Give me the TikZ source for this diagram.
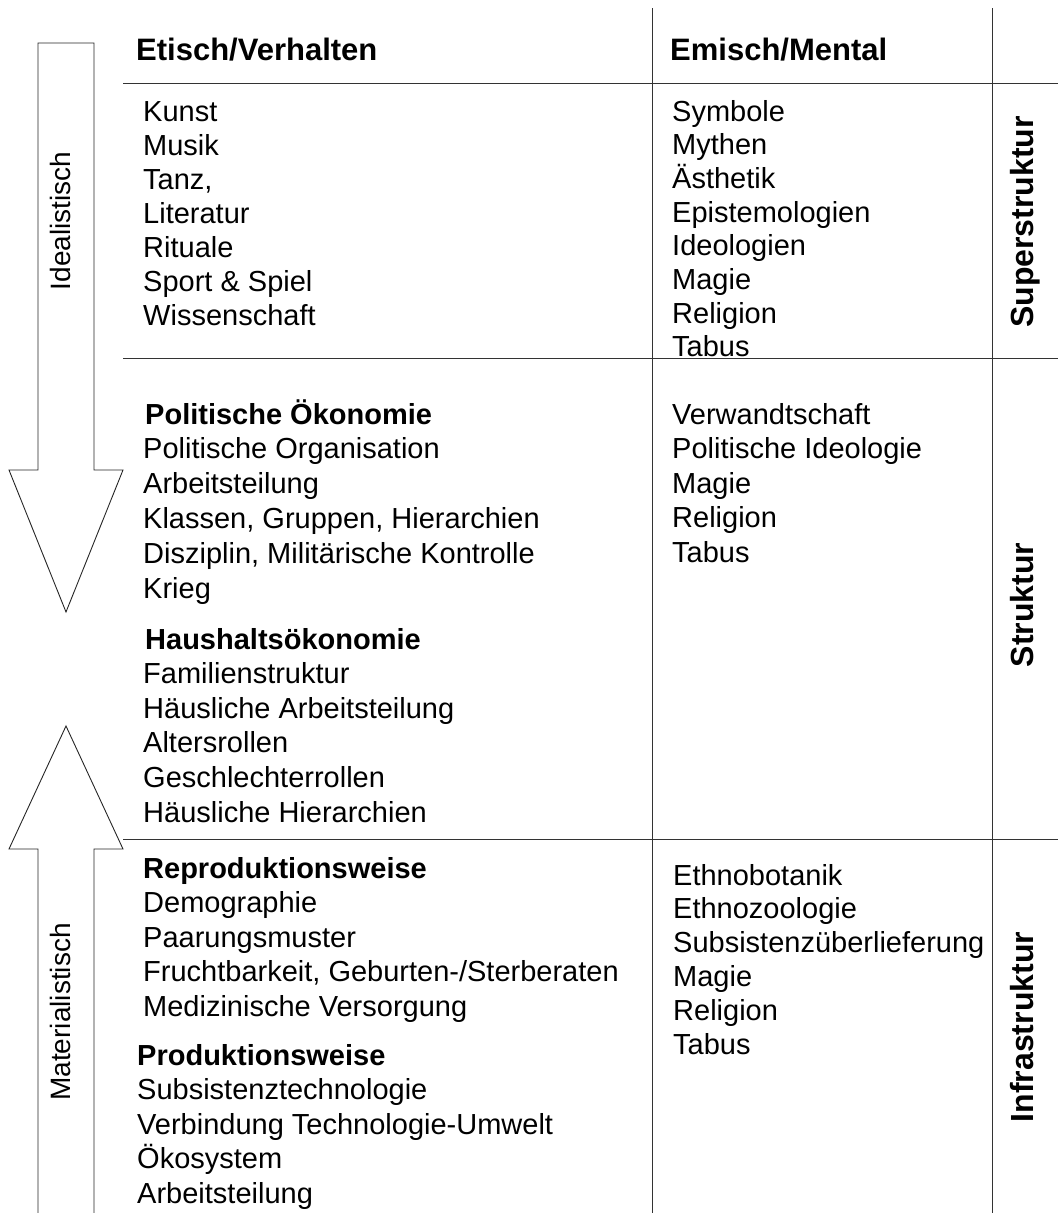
\documentclass[tikz,border=0pt]{standalone}
\usepackage{fontspec}
\setmainfont{Liberation Sans}
\usetikzlibrary{positioning}

\tikzset{
  rule/.style={draw=black!80, line width=1pt},
  item/.style={anchor=base west, inner sep=0pt, font=\fontsize{29}{34}\selectfont},
  subhead/.style={item, font=\fontsize{29}{34}\selectfont\bfseries},
  colhead/.style={item, font=\fontsize{31}{36}\selectfont\bfseries},
  level/.style={anchor=base, rotate=90, inner sep=0pt, font=\fontsize{32}{36}\selectfont\bfseries},
  dir/.style={anchor=base, rotate=90, inner sep=0pt, font=\fontsize{28}{32}\selectfont},
  bigarrow/.style={draw=black!85, line width=0.9pt, fill=white, line join=miter},
}

\begin{document}
\begin{tikzpicture}[x=1pt, y=-1pt]
    \useasboundingbox (0,0) rectangle (1058,1213);

    \draw[bigarrow] (38,43) -- (94,43) -- (94,470) -- (123,470) -- (66,612) -- (9,470) -- (38,470) -- cycle;
    \draw[bigarrow] (38,1213) -- (38,849) -- (9,849) -- (66,726) -- (123,849) -- (94,849) -- (94,1213);
    \node[dir] (ideal) at (70,221) {Idealistisch};
    \node[dir] (mat) at (70,1012) {Materialistisch};

    \draw[rule] (652,8) -- (652,1213);
    \draw[rule] (992,8) -- (992,1213);
    \draw[rule] (123,83) -- (1058,83);
    \draw[rule] (123,358) -- (1058,358);
    \draw[rule] (123,839) -- (1058,839);

    \node[colhead] (etic) at (136,60) {Etisch/Verhalten};
    \node[colhead] (emic) at (670,60) {Emisch/Mental};

    \node[level] (sup) at (1033,222) {Superstruktur};
    \node[level] (str) at (1033,605) {Struktur};
    \node[level] (inf) at (1033,1027) {Infrastruktur};

    \foreach \t [count=\i from 0] in {Kunst, Musik, {Tanz,}, Literatur, Rituale, Sport \& Spiel, Wissenschaft}
        \node[item] (art\i) at (143,121+34*\i) {\t};
    \foreach \t [count=\i from 0] in {Symbole, Mythen, Ästhetik, Epistemologien, Ideologien, Magie, Religion, Tabus}
        \node[item] (sym\i) at (672,121+33.7*\i) {\t};

    \node[subhead] (polec) at (145,424) {Politische Ökonomie};
    \foreach \t [count=\i from 1] in {Politische Organisation, Arbeitsteilung, {Klassen, Gruppen, Hierarchien}, {Disziplin, Militärische Kontrolle}, Krieg}
        \node[item] (pol\i) at (143,424+34.8*\i) {\t};
    \node[subhead] (homec) at (145,649) {Haushaltsökonomie};
    \foreach \t [count=\i from 1] in {Familienstruktur, Häusliche Arbeitsteilung, Altersrollen, Geschlechterrollen, Häusliche Hierarchien}
        \node[item] (dom\i) at (143,649+34.6*\i) {\t};
    \foreach \t [count=\i from 0] in {Verwandtschaft, Politische Ideologie, Magie, Religion, Tabus}
        \node[item] (kin\i) at (672,424+34.5*\i) {\t};

    \node[subhead] (repro) at (143,878) {Reproduktionsweise};
    \foreach \t [count=\i from 1] in {Demographie, Paarungsmuster, {Fruchtbarkeit, Geburten-/Sterberaten}, Medizinische Versorgung}
        \node[item] (rep\i) at (143,878+34.6*\i) {\t};
    \node[subhead] (prod) at (137,1065) {Produktionsweise};
    \foreach \t [count=\i from 1] in {Subsistenztechnologie, Verbindung Technologie-Umwelt, Ökosystem, Arbeitsteilung}
        \node[item] (pro\i) at (137,1065+34.5*\i) {\t};
    \foreach \t [count=\i from 0] in {Ethnobotanik, Ethnozoologie, Subsistenzüberlieferung, Magie, Religion, Tabus}
        \node[item] (eth\i) at (673,885+33.8*\i) {\t};

\end{tikzpicture}
\end{document}
